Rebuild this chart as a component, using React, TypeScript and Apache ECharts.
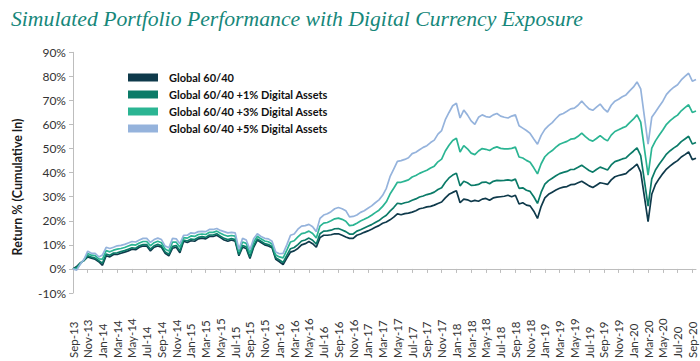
import React, { useEffect, useRef } from "react";
import * as echarts from "echarts";

const tickLabels = [
  "Sep-13", "Nov-13", "Jan-14", "Mar-14", "May-14", "Jul-14", "Sep-14", "Nov-14",
  "Jan-15", "Mar-15", "May-15", "Jul-15", "Sep-15", "Nov-15", "Jan-16", "Mar-16",
  "May-16", "Jul-16", "Sep-16", "Nov-16", "Jan-17", "Mar-17", "May-17", "Jul-17",
  "Sep-17", "Nov-17", "Jan-18", "Mar-18", "May-18", "Jul-18", "Sep-18", "Nov-18",
  "Jan-19", "Mar-19", "May-19", "Jul-19", "Sep-19", "Nov-19", "Jan-20", "Mar-20",
  "May-20", "Jul-20", "Sep-20",
];

const seriesNames = [
  "Global 60/40",
  "Global 60/40 +1% Digital Assets",
  "Global 60/40 +3% Digital Assets",
  "Global 60/40 +5% Digital Assets",
];

const seriesColors = ["#0f3a4b", "#0b7b68", "#2bb593", "#95b3dc"];

// half-month samples, Sep-13 .. mid Sep-20 (cumulative return, %)
const global6040 = [
  0, 1, 2.5, 3.5, 5, 4.5, 4, 3, 1.5, 5.5,
  5, 6, 6, 6.5, 7, 7.5, 8.2, 8, 9, 9.5,
  9.5, 7.5, 9, 9.5, 9, 6.5, 5.4, 8.6, 9, 6.7,
  11.5, 11, 11.7, 11.5, 12.5, 12.8, 12.5, 13.5, 13.5, 14,
  13, 12, 11.5, 12, 11.5, 5.5, 9, 8.5, 4.3, 9,
  12, 11, 10, 9.5, 8.8, 4, 3, 1.8, 4.5, 7,
  7.5, 8.5, 10, 10.5, 11.4, 10.5, 9, 13, 14, 14,
  14.2, 14.6, 14.6, 14, 13.3, 12.7, 12.7, 14, 14.5, 15.2,
  15.8, 16.5, 17.3, 18, 19, 19.5, 20.4, 21.5, 22.9, 22.5,
  23, 23.2, 23.6, 24.2, 25, 25.3, 25.8, 26, 26.5, 27.2,
  27.8, 29.5, 31, 31.8, 32.5, 27.5, 29, 28.7, 28, 28.5,
  28.1, 29, 29.3, 28.5, 29.5, 29.8, 30, 30.2, 30.6, 30,
  30.6, 27, 27.5, 26.5, 26.2, 24, 21, 26, 29.5, 31,
  31.9, 32.8, 33.5, 34, 34.2, 35, 35.1, 35.8, 36.4, 35.5,
  34.5, 33.8, 34.8, 35.8, 35.5, 35.1, 37, 38.3, 38.8, 39.2,
  39.6, 41, 42.2, 43.5, 40.2, 30, 19.7, 31, 35.1, 37.5,
  39.6, 41.5, 42.8, 44, 45, 46.5, 47.5, 48.6, 45.4, 46,
];

const plus1 = [
  0, 0.7, 2.4, 3.6, 5.5, 4.9, 4.5, 3.4, 2.4, 6.2,
  5.7, 6.6, 6.7, 7.2, 7.6, 8.2, 8.8, 8.6, 9.6, 10.1,
  10.1, 8.2, 9.6, 10.2, 9.6, 7.1, 6.1, 9.4, 9.7, 7.5,
  12, 11.6, 12.4, 12.2, 13.1, 13.4, 13.1, 14.1, 14.1, 14.6,
  13.6, 12.7, 12.2, 12.6, 12.2, 6, 9.7, 9.2, 5, 9.7,
  12.5, 11.5, 10.5, 10.1, 9.3, 4.6, 3.7, 2.7, 5.6, 8.4,
  8.9, 10.1, 11.6, 12, 12.8, 11.9, 10.3, 14.6, 15.7, 15.8,
  16.1, 16.7, 16.8, 16.2, 15.5, 14.5, 14.5, 15.7, 16.3, 17,
  17.7, 18.4, 19.3, 20.1, 21.3, 22.3, 24, 25.5, 27.3, 27,
  27.5, 27.8, 28.5, 29.1, 29.9, 30.3, 30.9, 31.3, 31.9, 33,
  33.7, 36, 37.8, 39, 39.8, 34.5, 36.4, 35.8, 34.7, 34.8,
  35.1, 36, 36.1, 35.4, 36.4, 36.8, 36.7, 36.8, 37, 36.7,
  37.3, 33.5, 33.7, 32.7, 32.2, 30, 27.2, 31.9, 35.2, 36.7,
  37.7, 38.7, 39.6, 40.1, 40.5, 41.3, 41.4, 42.2, 43.1, 42,
  40.9, 40.2, 41.3, 42.3, 41.7, 41.1, 43.2, 44.6, 45.1, 45.7,
  46.1, 47.6, 48.9, 50.3, 47.1, 36.7, 26.1, 37.4, 41.1, 43.5,
  45.6, 47.7, 49.1, 50.3, 51.3, 52.9, 54, 55.1, 51.9, 52.5,
];

const plus3 = [
  0, 0.1, 2.2, 3.8, 6.4, 5.7, 5.5, 4.2, 4.1, 7.6,
  7.1, 7.8, 8.2, 8.5, 8.9, 9.5, 10.1, 9.9, 10.8, 11.4,
  11.4, 9.6, 10.9, 11.5, 10.9, 8.3, 7.4, 11.1, 11.1, 9,
  13, 12.8, 13.7, 13.5, 14.3, 14.5, 14.3, 15.2, 15.2, 15.7,
  14.8, 14.1, 13.6, 13.9, 13.6, 7.1, 11.2, 10.6, 6.5, 11.1,
  13.6, 12.5, 11.6, 11.3, 10.4, 5.8, 5, 4.6, 7.8, 11.2,
  11.7, 13.3, 14.7, 15, 15.7, 14.7, 12.9, 17.8, 19, 19.3,
  20, 20.8, 21.1, 20.6, 19.8, 18, 18.2, 19, 19.9, 20.6,
  21.4, 22.3, 23.4, 24.4, 26, 27.9, 31.1, 33.5, 36, 36,
  36.5, 37, 38.2, 38.8, 39.7, 40.4, 41, 41.9, 42.7, 44.5,
  45.6, 49, 51.4, 53.4, 54.3, 48.6, 51.2, 49.9, 48.1, 47.5,
  49, 50, 49.7, 49.2, 50.2, 50.7, 50.1, 49.9, 49.9, 50.1,
  50.6, 46.5, 46.1, 45.1, 44.3, 42, 39.5, 43.7, 46.6, 48.1,
  49.2, 50.6, 51.8, 52.4, 53, 53.9, 54.1, 55.1, 56.4, 55,
  53.7, 53.1, 54.2, 55.4, 54.1, 53.2, 55.6, 57.1, 57.8, 58.6,
  59.2, 60.8, 62.2, 64, 61, 50, 39, 50.2, 53.2, 55.5,
  57.7, 60.1, 61.6, 62.9, 63.9, 65.7, 67, 68.2, 65, 65.6,
];

const plus5 = [
  0, -0.5, 2, 4, 7.4, 6.5, 6.5, 5, 5.8, 9,
  8.5, 9, 9.6, 9.8, 10.2, 10.8, 11.4, 11.2, 12, 12.7,
  12.7, 11, 12.2, 12.8, 12.2, 9.5, 8.8, 12.7, 12.5, 10.5,
  14, 14, 15, 14.8, 15.5, 15.6, 15.5, 16.4, 16.4, 16.8,
  16, 15.5, 15, 15.2, 15, 8.2, 12.7, 12, 8, 12.5,
  14.6, 13.5, 12.7, 12.5, 11.5, 7, 6.3, 6.5, 10, 14,
  14.5, 16.5, 17.8, 18, 18.5, 17.5, 15.5, 21, 22.4, 22.9,
  23.8, 25, 25.5, 25, 24.2, 21.6, 21.8, 22.4, 23.5, 24.2,
  25.2, 26.2, 27.5, 28.7, 30.6, 33.5, 38.3, 41.5, 44.7, 45,
  45.5, 46.2, 47.9, 48.5, 49.5, 50.5, 51.2, 52.5, 53.5, 56,
  57.5, 62, 65, 67.8, 68.8, 62.7, 66, 64, 61.5, 60.1,
  63, 64, 63.3, 63, 64, 64.6, 63.5, 63, 62.7, 63.5,
  64, 59.5, 58.5, 57.5, 56.3, 54, 51.8, 55.5, 58, 59.5,
  60.8, 62.5, 64, 64.6, 65.5, 66.5, 66.8, 68, 69.7, 68,
  66.5, 65.9, 67.2, 68.5, 66.5, 65.2, 68, 69.7, 70.5, 71.5,
  72.3, 74, 75.5, 77.7, 74.8, 63.3, 51.8, 63, 65.2, 67.5,
  69.7, 72.5, 74.2, 75.5, 76.5, 78.5, 80, 81.3, 78, 78.7,
];

const seriesData = [global6040, plus1, plus3, plus5];

const categories = global6040.map((_, i) =>
  i % 4 === 0 ? tickLabels[i / 4] : `${tickLabels[Math.floor(i / 4)]}.${i % 4}`
);

const axisGray = "#bdbdbd";
const showEvery = (i: number) => i % 4 === 0;

export default function App() {
  const ref = useRef<HTMLDivElement>(null);
  useEffect(() => {
    if (!ref.current) return;
    const chart = echarts.init(ref.current, null, { renderer: "svg" });
    chart.setOption({
      animation: false,
      backgroundColor: "#ffffff",
      title: {
        text: "Simulated Portfolio Performance with Digital Currency Exposure",
        left: 6,
        top: 3,
        textStyle: {
          fontFamily: "Liberation Serif",
          fontStyle: "italic",
          fontWeight: "normal",
          fontSize: 21.7,
          color: "#16877a",
        },
      },
      legend: {
        orient: "vertical",
        left: 123,
        top: 67,
        itemWidth: 30,
        itemHeight: 8,
        itemGap: 6,
        icon: "rect",
        data: seriesNames,
        textStyle: {
          fontFamily: "Lato",
          fontWeight: "bold",
          fontSize: 11,
          color: "#111111",
          padding: [0, 0, 0, 6],
        },
      },
      grid: { left: 73, right: 4, top: 52.3, bottom: 48.7, containLabel: false },
      xAxis: {
        type: "category",
        data: categories,
        boundaryGap: false,
        axisLine: { onZero: true, lineStyle: { color: axisGray, width: 1 } },
        axisTick: { interval: showEvery, length: 4, lineStyle: { color: axisGray } },
        axisLabel: {
          interval: showEvery,
          rotate: 90,
          align: "left",
          verticalAlign: "middle",
          margin: 65,
          fontFamily: "Lato",
          fontSize: 11.5,
          color: "#333333",
        },
        splitLine: { show: false },
      },
      yAxis: {
        type: "value",
        min: -10,
        max: 90,
        interval: 10,
        splitLine: { show: false },
        axisLine: { show: true, lineStyle: { color: axisGray, width: 1 } },
        axisTick: { show: true, length: 4, lineStyle: { color: axisGray } },
        axisLabel: {
          formatter: "{value}%",
          margin: 7,
          fontFamily: "Lato",
          fontSize: 12,
          color: "#333333",
        },
      },
      graphic: [
        {
          type: "text",
          x: 17,
          y: 187,
          rotation: Math.PI / 2,
          style: {
            text: "Return % (Cumulative ln)",
            fontFamily: "Lato",
            fontWeight: "bold",
            fontSize: 12.5,
            fill: "#1a1a1a",
            align: "center",
            verticalAlign: "middle",
          },
        },
      ],
      series: seriesNames.map((name, k) => ({
        name,
        type: "line",
        data: seriesData[k],
        showSymbol: false,
        symbol: "none",
        color: seriesColors[k],
        lineStyle: { width: 1.7, color: seriesColors[k] },
      })),
    });
    return () => chart.dispose();
  }, []);
  return (
    <div
      ref={ref}
      style={{ position: "fixed", left: 0, top: 0, width: 700, height: 361, background: "#fff" }}
    />
  );
}
